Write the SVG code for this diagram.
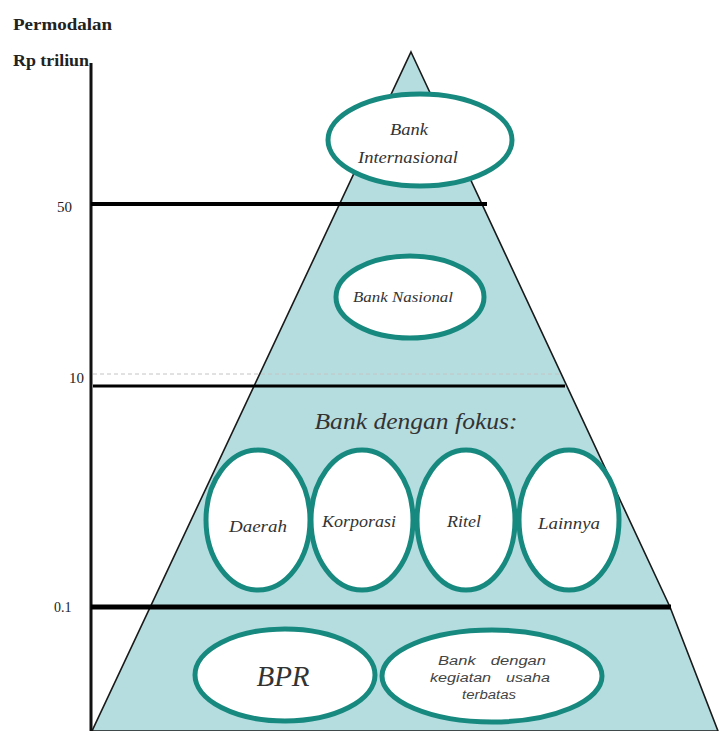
<svg xmlns="http://www.w3.org/2000/svg" width="720" height="731" viewBox="0 0 720 731">
<style>
.lbl{font-family:"Liberation Serif",serif;fill:#222}
.it{font-family:"Liberation Serif",serif;font-style:italic;fill:#333;text-anchor:middle}
.sn{font-family:"Liberation Sans",sans-serif;font-style:italic;fill:#444;text-anchor:middle;font-size:12.5px;word-spacing:8px}
.node ellipse{fill:#fff;stroke:#17897f;stroke-width:5}
.tier{stroke:#000;fill:none}
</style>
<rect width="720" height="731" fill="#fff"/>
<g id="pyramid">
<polygon points="411,52 670,607 718,731 92,731" fill="#b5dde0" stroke="#1a1a1a" stroke-width="1.6"/>
</g>
<g id="axis">
<line x1="91" y1="63" x2="91" y2="731" stroke="#111" stroke-width="3"/>
<text class="lbl" x="13" y="30" font-size="16" font-weight="bold" textLength="99" lengthAdjust="spacingAndGlyphs">Permodalan</text>
<text class="lbl" x="13" y="66" font-size="16" font-weight="bold" textLength="76" lengthAdjust="spacingAndGlyphs">Rp triliun</text>
<text class="lbl" x="57" y="212" font-size="15" fill="#444">50</text>
<text class="lbl" x="69" y="383" font-size="15">10</text>
<text class="lbl" x="54" y="612" font-size="14" fill="#555">0.1</text>
</g>
<g id="connectors">
<line class="tier" x1="91" y1="204" x2="487" y2="204" stroke-width="4"/>
<line x1="93" y1="374" x2="562" y2="374" stroke="#c4c4c4" stroke-width="1" stroke-dasharray="4 3"/>
<line class="tier" x1="93" y1="386" x2="565" y2="386" stroke-width="3"/>
<line class="tier" x1="91" y1="607" x2="671" y2="607" stroke-width="5"/>
</g>
<g id="bank-internasional" class="node">
<ellipse cx="420" cy="140" rx="92" ry="46"/>
<text class="it" x="409" y="135" font-size="16" textLength="38" lengthAdjust="spacingAndGlyphs">Bank</text>
<text class="it" x="408" y="163" font-size="16" textLength="100" lengthAdjust="spacingAndGlyphs">Internasional</text>
</g>
<g id="bank-nasional" class="node">
<ellipse cx="410" cy="297" rx="74" ry="41"/>
<text class="it" x="403" y="302" font-size="15" textLength="100" lengthAdjust="spacingAndGlyphs">Bank Nasional</text>
</g>
<g id="fokus-label">
<text class="it" x="416" y="429" font-size="23" fill="#2e4747" textLength="203" lengthAdjust="spacingAndGlyphs">Bank dengan fokus:</text>
</g>
<g id="daerah" class="node">
<ellipse cx="258" cy="520" rx="52" ry="70"/>
<text class="it" x="258" y="532" font-size="16" textLength="58" lengthAdjust="spacingAndGlyphs">Daerah</text>
</g>
<g id="korporasi" class="node">
<ellipse cx="362" cy="520" rx="51" ry="70"/>
<text class="it" x="359" y="527" font-size="16" textLength="74" lengthAdjust="spacingAndGlyphs">Korporasi</text>
</g>
<g id="ritel" class="node">
<ellipse cx="466" cy="520" rx="49" ry="70"/>
<text class="it" x="464" y="527" font-size="16" textLength="34" lengthAdjust="spacingAndGlyphs">Ritel</text>
</g>
<g id="lainnya" class="node">
<ellipse cx="569" cy="520" rx="50" ry="70"/>
<text class="it" x="569" y="529" font-size="16" textLength="62" lengthAdjust="spacingAndGlyphs">Lainnya</text>
</g>
<g id="bpr" class="node">
<ellipse cx="285" cy="675" rx="90" ry="46"/>
<text class="it" x="283" y="686" font-size="29" fill="#2a2a2a">BPR</text>
</g>
<g id="bank-terbatas" class="node">
<ellipse cx="492" cy="676" rx="110" ry="46"/>
<text class="sn" x="492" y="665" textLength="108" lengthAdjust="spacingAndGlyphs">Bank dengan</text>
<text class="sn" x="490" y="682" textLength="120" lengthAdjust="spacingAndGlyphs">kegiatan usaha</text>
<text class="sn" x="489" y="699" textLength="54" lengthAdjust="spacingAndGlyphs">terbatas</text>
</g>
</svg>
